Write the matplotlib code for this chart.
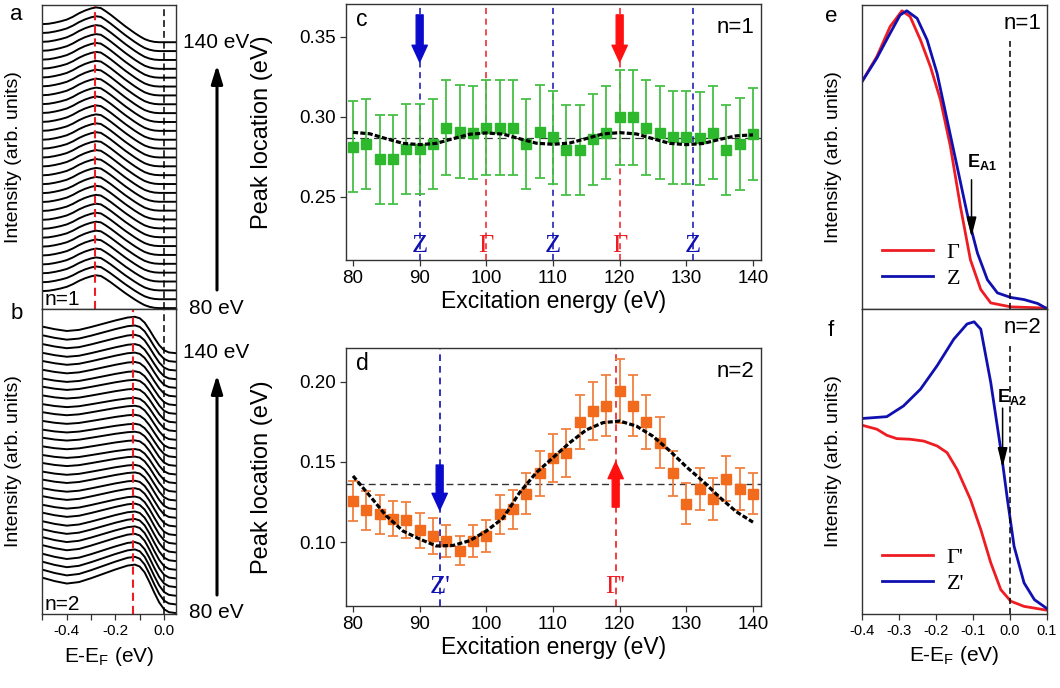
import matplotlib
matplotlib.use('Agg')
import matplotlib.pyplot as plt
import matplotlib.patches as mpatches
import matplotlib.transforms as mtransforms
import numpy as np

plt.rcParams['font.family'] = ['Liberation Sans', 'DejaVu Sans']
plt.rcParams['mathtext.fontset'] = 'custom'
plt.rcParams['mathtext.rm'] = 'Liberation Sans'
plt.rcParams['mathtext.it'] = 'Liberation Sans:italic'
plt.rcParams['mathtext.bf'] = 'Liberation Sans:bold'
plt.rcParams['axes.unicode_minus'] = False

# photon (excitation) energies, eV
energy = [80, 82, 84, 86, 88, 90, 92, 94, 96, 98, 100, 102, 104, 106, 108, 110,
          112, 114, 116, 118, 120, 122, 124, 126, 128, 130, 132, 134, 136, 138, 140]

# panel a: EDC shape for n=1 (normalised) and amplitude of each stacked curve
edc1_e = [-0.50, -0.475, -0.45, -0.425, -0.40, -0.375, -0.35, -0.325, -0.30, -0.28,
          -0.26, -0.24, -0.22, -0.20, -0.18, -0.16, -0.14, -0.12, -0.10, -0.08,
          -0.06, -0.04, -0.02, 0.05]
edc1_i = [0.52, 0.53, 0.56, 0.60, 0.65, 0.73, 0.83, 0.91, 0.97, 1.00,
          0.98, 0.89, 0.79, 0.68, 0.57, 0.46, 0.36, 0.26, 0.17, 0.09,
          0.04, 0.01, 0.0, 0.0]
edc1_amp = [3.70, 3.70, 3.72, 3.72, 3.74, 3.74, 3.75, 3.76, 3.78, 3.78, 3.80,
            3.80, 3.82, 3.82, 3.83, 3.84, 3.85, 3.85, 3.86, 3.87, 3.88, 3.88,
            3.89, 3.90, 3.90, 3.91, 3.92, 3.92, 3.93, 3.93, 3.93]

# panel b: EDC for n=2 = step + weighted peak, per-curve weight and amplitude
edc2_e = [-0.50, -0.45, -0.40, -0.35, -0.30, -0.25, -0.20, -0.15, -0.12, -0.10,
          -0.08, -0.06, -0.04, -0.02, 0.00, 0.02, 0.05]
edc2_step = [0.70, 0.66, 0.64, 0.66, 0.70, 0.74, 0.78, 0.81, 0.82, 0.80,
             0.72, 0.58, 0.40, 0.22, 0.08, 0.02, 0.0]
edc2_peak = [0.03, 0.0, -0.03, -0.02, 0.02, 0.07, 0.12, 0.17, 0.18, 0.16,
             0.12, 0.06, 0.02, 0.0, 0.0, 0.0, 0.0]
edc2_w = [1.0, 1.0, 0.95, 0.9, 0.85, 0.8, 0.75, 0.7, 0.6, 0.5, 0.45, 0.4, 0.35,
          0.3, 0.25, 0.2, 0.2, 0.2, 0.2, 0.25, 0.3, 0.3, 0.35, 0.4, 0.5, 0.6,
          0.7, 0.8, 0.9, 1.0, 1.0]
edc2_amp = [5.6, 5.5, 5.4, 5.3, 5.3, 5.2, 5.1, 5.0, 5.0, 4.9, 4.9, 4.8, 4.8, 4.7,
            4.7, 4.6, 4.6, 4.6, 4.5, 4.5, 4.5, 4.4, 4.4, 4.4, 4.3, 4.3, 4.3, 4.2,
            4.2, 4.2, 4.2]
peak_guide = [-0.283, -0.126]

# panel c: n=1 peak location
peak_n1 = [0.2813, 0.2829, 0.2733, 0.2733, 0.2796, 0.2796, 0.2829, 0.2931, 0.2906,
           0.2900, 0.2931, 0.2931, 0.2931, 0.2829, 0.2906, 0.2871, 0.2792, 0.2792,
           0.2858, 0.2900, 0.2996, 0.2996, 0.2931, 0.2900, 0.2871, 0.2871, 0.2865,
           0.2900, 0.2792, 0.2829, 0.2892]
err_n1 = [0.0286, 0.0284, 0.0276, 0.0276, 0.0280, 0.0280, 0.0284, 0.0297, 0.0290,
          0.0290, 0.0297, 0.0297, 0.0297, 0.0284, 0.0290, 0.0290, 0.0280, 0.0280,
          0.0286, 0.0290, 0.0297, 0.0297, 0.0297, 0.0290, 0.0290, 0.0290, 0.0290,
          0.0290, 0.0280, 0.0285, 0.0290]
fit_e = [80, 82.5, 85, 87.5, 90, 92.5, 95, 97.5, 100, 102.5, 105, 107.5, 110,
         112.5, 115, 117.5, 120, 122.5, 125, 127.5, 130, 132.5, 135, 137.5, 140]
fit_n1 = [0.2902, 0.2893, 0.2862, 0.2833, 0.2825, 0.2833, 0.2862, 0.2890, 0.2898,
          0.2891, 0.2862, 0.2834, 0.2827, 0.2835, 0.2863, 0.2892, 0.2900, 0.2892,
          0.2862, 0.2833, 0.2825, 0.2832, 0.2858, 0.2880, 0.2886]
mean_n1 = 0.2865
marks_c = [90, 100, 110, 120, 131]
labels_c = ['Z', 'Γ', 'Z', 'Γ', 'Z']

# panel d: n=2 peak location
peak_n2 = [0.1257, 0.1199, 0.1174, 0.1147, 0.1139, 0.1075, 0.1039, 0.1008, 0.0946,
           0.1008, 0.1039, 0.1174, 0.1205, 0.1303, 0.1430, 0.1527, 0.1558, 0.1749,
           0.1817, 0.1849, 0.1942, 0.1849, 0.1749, 0.1620, 0.1430, 0.1241, 0.1334,
           0.1268, 0.1396, 0.1334, 0.1303]
err_n2 = [0.0125, 0.012, 0.012, 0.011, 0.011, 0.011, 0.011, 0.010, 0.009, 0.010,
          0.010, 0.012, 0.012, 0.013, 0.014, 0.015, 0.015, 0.017, 0.018, 0.019,
          0.020, 0.019, 0.017, 0.016, 0.014, 0.013, 0.013, 0.013, 0.014, 0.013, 0.013]
fit_n2 = [0.1413, 0.1290, 0.1164, 0.1070, 0.1020, 0.0977, 0.0980, 0.1010, 0.1070,
          0.1150, 0.1310, 0.1434, 0.1527, 0.1620, 0.1700, 0.1745, 0.1755, 0.1724,
          0.1660, 0.1570, 0.1470, 0.1380, 0.1280, 0.1190, 0.1125]
mean_n2 = 0.1365
marks_d = [93, 119.4]
labels_d = ["Z'", "Γ'"]

# panel e: EDCs at Gamma and Z, n=1
e1_gam_e = [-0.4, -0.36, -0.324, -0.292, -0.270, -0.242, -0.215, -0.188, -0.161,
            -0.134, -0.107, -0.079, -0.052, 0.002, 0.1]
e1_gam_i = [0.748, 0.830, 0.929, 0.981, 0.962, 0.885, 0.797, 0.688, 0.534,
            0.337, 0.162, 0.064, 0.020, 0.007, 0.003]
e1_z_e = [-0.4, -0.36, -0.324, -0.297, -0.279, -0.251, -0.224, -0.197, -0.170,
          -0.143, -0.116, -0.088, -0.061, -0.034, 0.002, 0.038, 0.075, 0.097]
e1_z_i = [0.748, 0.825, 0.907, 0.967, 0.981, 0.956, 0.885, 0.775, 0.622,
          0.469, 0.315, 0.184, 0.096, 0.053, 0.038, 0.031, 0.018, 0.003]

# panel f: EDCs at Gamma' and Z', n=2
e2_gam_e = [-0.4, -0.36, -0.333, -0.306, -0.270, -0.233, -0.197, -0.170, -0.143,
            -0.107, -0.079, -0.052, -0.025, 0.002, 0.038, 0.102]
e2_gam_i = [0.619, 0.606, 0.586, 0.575, 0.573, 0.567, 0.551, 0.529, 0.474,
            0.376, 0.277, 0.168, 0.080, 0.042, 0.025, 0.012]
e2_z_e = [-0.4, -0.333, -0.288, -0.242, -0.197, -0.152, -0.116, -0.097, -0.079,
          -0.052, -0.025, -0.007, 0.011, 0.038, 0.066, 0.102]
e2_z_i = [0.641, 0.647, 0.682, 0.737, 0.814, 0.901, 0.951, 0.958, 0.934,
          0.759, 0.540, 0.376, 0.222, 0.102, 0.047, 0.016]

W, H = 1060, 688
GREEN, GREEN_ERR = '#2eb82e', '#45c045'
ORANGE, ORANGE_ERR = '#f26a1b', '#f08040'
RED, BLUE = '#ee1d23', '#1010b0'
FRAME = '#333333'


def box(l, t, r, b):
    return [l / W, 1 - b / H, (r - l) / W, (b - t) / H]


def fpos(x, y):
    return x / W, 1 - y / H


def frame(ax):
    for s in ax.spines.values():
        s.set_color(FRAME)
        s.set_linewidth(1.0)
    ax.tick_params(direction='out', length=4, width=0.9, color=FRAME)


fig = plt.figure(figsize=(W / 100, H / 100), dpi=100)

# ---- panels a, b: stacked EDCs
ax_a = fig.add_axes(box(42, 5, 176, 309))
ax_b = fig.add_axes(box(42, 309, 176, 614))
for i in range(len(energy)):
    ax_a.plot(edc1_e, i + edc1_amp[i] * np.array(edc1_i), color='k', lw=1.4)
    yb = np.array(edc2_step) + edc2_w[i] * np.array(edc2_peak)
    ax_b.plot(edc2_e, i + edc2_amp[i] * yb, color='k', lw=1.4)
for ax, pk, top in [(ax_a, peak_guide[0], 34.2), (ax_b, peak_guide[1], 35.1)]:
    frame(ax)
    ax.axvline(pk, color=RED, ls=(0, (3.9, 2.4)), lw=1.5)
    ax.axvline(0, color='k', ls=(0, (4.5, 2.6)), lw=1.1)
    ax.set_xlim(-0.502, 0.049)
    ax.set_ylim(-0.1, top)
    ax.set_yticks([])
    ax.set_ylabel('Intensity (arb. units)', fontsize=14)
    ax.yaxis.set_label_coords(-0.15, 0.5)
ax_a.set_xticks([])
ax_b.set_xticks([-0.5, -0.4, -0.3, -0.2, -0.1, 0.0])
ax_b.set_xticklabels(['', '-0.4', '', '-0.2', '', '0.0'], fontsize=11)
ax_b.set_xlabel('E-E$_\\mathrm{F}$ (eV)', fontsize=15, labelpad=5)
ax_a.text(0.02, 0.0, 'n=1', transform=ax_a.transAxes, fontsize=15, va='bottom')
ax_b.text(0.02, 0.0, 'n=2', transform=ax_b.transAxes, fontsize=15, va='bottom')

fig.text(*fpos(16, 15), 'a', fontsize=16, ha='center', va='center')
fig.text(*fpos(17, 314), 'b', fontsize=16, ha='center', va='center')
for y_top, y_bot, a_top, a_bot in [(43, 309, 65, 290), (352, 613, 375, 595)]:
    fig.text(*fpos(216, y_top), '140 eV', fontsize=15, ha='center', va='center')
    fig.text(*fpos(216, y_bot), '80 eV', fontsize=15, ha='center', va='center')
    fig.add_artist(mpatches.FancyArrowPatch(
        fpos(217, a_bot), fpos(217, a_top), transform=fig.transFigure,
        arrowstyle='-|>,head_length=0.55,head_width=0.17', mutation_scale=20,
        lw=2.2, color='k', shrinkA=0, shrinkB=0))

# ---- panels c, d: peak location vs excitation energy
ax_c = fig.add_axes(box(346, 4, 761, 260))
ax_d = fig.add_axes(box(346, 348, 761, 606))
arrow_style = 'simple,head_length=1.2,head_width=1.1,tail_width=0.5'

ax_c.errorbar(energy, peak_n1, yerr=err_n1, fmt='s', ms=7, mfc=GREEN, mec=GREEN,
              ecolor=GREEN_ERR, elinewidth=1.3, capsize=3.5, capthick=1.3, zorder=3)
ax_c.plot(fit_e, fit_n1, color='k', lw=2.3, ls=(0, (1.6, 0.7)), zorder=4)
ax_c.axhline(mean_n1, color=FRAME, lw=0.9, ls=(0, (7, 4)), zorder=2)
ax_c.set_ylim(0.2104, 0.3704)
ax_c.set_yticks([0.25, 0.30, 0.35])
tc = mtransforms.blended_transform_factory(ax_c.transData, ax_c.transAxes)
for x, lab in zip(marks_c, labels_c):
    col = BLUE if lab == 'Z' else RED
    ax_c.axvline(x, color=col, lw=1.1, ls=(0, (4, 3)), zorder=1)
    ax_c.text(x, 0.055, lab, transform=tc, color=col, fontsize=19, ha='center',
              va='center', family='Liberation Serif')
for x, col in [(90, '#0a0acc'), (120, '#ff1010')]:
    ax_c.add_patch(mpatches.FancyArrowPatch((x, 0.3636), (x, 0.3342),
                   arrowstyle=arrow_style, mutation_scale=10, color=col,
                   shrinkA=0, shrinkB=0, zorder=5))

ax_d.errorbar(energy, peak_n2, yerr=err_n2, fmt='s', ms=7, mfc=ORANGE, mec=ORANGE,
              ecolor=ORANGE_ERR, elinewidth=1.3, capsize=3.5, capthick=1.3, zorder=3)
ax_d.plot(fit_e, fit_n2, color='k', lw=2.3, ls=(0, (1.6, 0.7)), zorder=4)
ax_d.axhline(mean_n2, color=FRAME, lw=1.0, ls=(0, (5, 3)), zorder=2)
ax_d.set_ylim(0.0603, 0.221)
ax_d.set_yticks([0.10, 0.15, 0.20])
td = mtransforms.blended_transform_factory(ax_d.transData, ax_d.transAxes)
for x, lab, col in zip(marks_d, labels_d, [BLUE, RED]):
    ax_d.axvline(x, color=col, lw=1.2, ls=(0, (4, 3)), zorder=1)
    ax_d.text(x, 0.075, lab, transform=td, color=col, fontsize=19, ha='center',
              va='center', family='Liberation Serif')
ax_d.add_patch(mpatches.FancyArrowPatch((marks_d[0], 0.1481), (marks_d[0], 0.1201),
               arrowstyle=arrow_style, mutation_scale=10, color='#0a0acc',
               shrinkA=0, shrinkB=0, zorder=5))
ax_d.add_patch(mpatches.FancyArrowPatch((marks_d[1], 0.1219), (marks_d[1], 0.1500),
               arrowstyle=arrow_style, mutation_scale=10, color='#ff1010',
               shrinkA=0, shrinkB=0, zorder=5))

for ax, letter, nlab in [(ax_c, 'c', 'n=1'), (ax_d, 'd', 'n=2')]:
    frame(ax)
    ax.set_xlim(78.95, 141.2)
    ax.set_xticks([80, 90, 100, 110, 120, 130, 140])
    ax.tick_params(labelsize=13.5)
    ax.yaxis.set_major_formatter(matplotlib.ticker.FormatStrFormatter('%.2f'))
    ax.set_xlabel('Excitation energy (eV)', fontsize=16.5, labelpad=2)
    ax.set_ylabel('Peak location (eV)', fontsize=17)
    ax.yaxis.set_label_coords(-0.176, 0.5)
    ax.text(0.025, 0.94, letter, transform=ax.transAxes, fontsize=16.5, va='center')
    ax.text(0.985, 0.91, nlab, transform=ax.transAxes, fontsize=16, ha='right',
            va='center')

# ---- panels e, f: EDCs at high-symmetry points
ax_e = fig.add_axes(box(862, 5, 1047, 309))
ax_f = fig.add_axes(box(862, 309, 1047, 614))
ax_e.plot(e1_gam_e, e1_gam_i, color=RED, lw=2.0, label='Γ')
ax_e.plot(e1_z_e, e1_z_i, color=BLUE, lw=2.0, label='Z')
ax_f.plot(e2_gam_e, e2_gam_i, color=RED, lw=2.0, label="Γ'")
ax_f.plot(e2_z_e, e2_z_i, color=BLUE, lw=2.0, label="Z'")
for ax, nlab in [(ax_e, 'n=1'), (ax_f, 'n=2')]:
    frame(ax)
    ax.axvline(0, ymax=0.88, color='k', lw=1.1, ls=(0, (4, 2.6)))
    ax.set_xlim(-0.4, 0.1)
    ax.set_ylim(0, 1.0)
    ax.set_yticks([])
    ax.set_ylabel('Intensity (arb. units)', fontsize=14)
    ax.yaxis.set_label_coords(-0.11, 0.5)
    ax.text(0.97, 0.94, nlab, transform=ax.transAxes, fontsize=16, ha='right',
            va='center')
    ax.legend(loc='lower left', bbox_to_anchor=(0.0, 0.0), frameon=False,
              handlelength=2.3, handletextpad=0.6, labelspacing=0.25,
              prop={'family': 'Liberation Serif', 'size': 16})
ax_e.set_xticks([])
ax_f.set_xticks([-0.4, -0.3, -0.2, -0.1, 0.0, 0.1])
ax_f.set_xticklabels(['-0.4', '-0.3', '-0.2', '-0.1', '0.0', '0.1'], fontsize=10.5)
ax_f.set_xlabel('E-E$_\\mathrm{F}$ (eV)', fontsize=15, labelpad=4)

ax_e.text(-0.077, 0.45, '$\\mathbf{E_{A1}}$', fontsize=13, ha='center', va='bottom')
ax_e.annotate('', xy=(-0.104, 0.237), xytext=(-0.104, 0.425),
              arrowprops=dict(arrowstyle='-|>,head_length=0.6,head_width=0.15',
                              mutation_scale=20, lw=1.1, color='k',
                              shrinkA=0, shrinkB=0))
ax_f.text(0.006, 0.68, '$\\mathbf{E_{A2}}$', fontsize=13, ha='center', va='bottom')
ax_f.annotate('', xy=(-0.02, 0.48), xytext=(-0.02, 0.675),
              arrowprops=dict(arrowstyle='-|>,head_length=0.6,head_width=0.15',
                              mutation_scale=20, lw=1.1, color='k',
                              shrinkA=0, shrinkB=0))

fig.text(*fpos(831, 17), 'e', fontsize=16, ha='center', va='center')
fig.text(*fpos(831, 330), 'f', fontsize=16, ha='center', va='center')

fig.savefig('out.png', dpi=100)
